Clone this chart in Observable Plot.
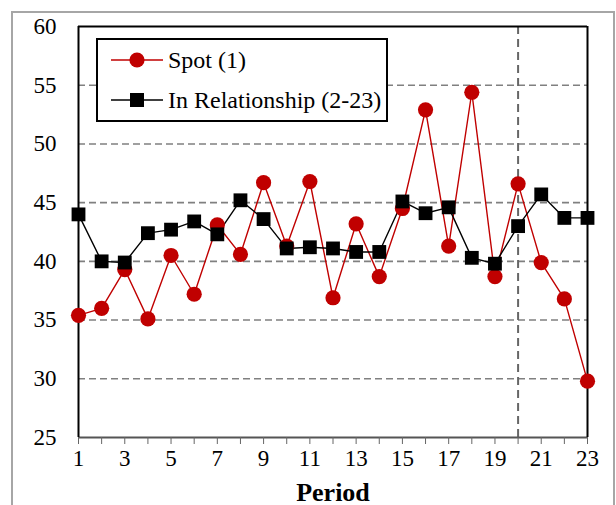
<!DOCTYPE html>
<html>
<head>
<meta charset="utf-8">
<script src="https://cdn.jsdelivr.net/npm/d3@7"></script>
<script src="https://cdn.jsdelivr.net/npm/@observablehq/plot@0.6"></script>
<style>
  html, body { margin: 0; padding: 0; background: #fff; }
  #wrap { position: relative; width: 616px; height: 505px; overflow: hidden; font-family: "Liberation Serif", "Times New Roman", serif; }
  #border { position: absolute; left: 11px; top: 11px; width: 600px; height: 520px; border: 2px solid #a6a6a6; }
  #chart { position: absolute; left: 0; top: 0; }
  #legend { position: absolute; left: 96px; top: 38px; width: 288px; height: 80px; border: 2px solid #000; background: #fff; box-sizing: content-box; }
  .item { position: absolute; left: 13px; height: 30px; display: flex; align-items: center; font-family: "Liberation Serif", "Times New Roman", serif; font-size: 24px; color: #000; white-space: nowrap; }
  .item svg { display: block; flex: none; }
  .item span { margin-left: 5px; line-height: 30px; }
</style>
</head>
<body>
<div id="wrap">
  <div id="border"></div>
  <div id="chart"></div>
  <div id="legend"></div>
</div>
<script>
const periods = d3.range(1, 24);
const spot = [35.4, 36.0, 39.3, 35.1, 40.5, 37.2, 43.1, 40.6, 46.7, 41.3, 46.8, 36.9, 43.2, 38.7, 44.5, 52.9, 41.3, 54.4, 38.7, 46.6, 39.9, 36.8, 29.8];
const rel  = [44.0, 40.0, 39.9, 42.4, 42.7, 43.4, 42.3, 45.2, 43.6, 41.1, 41.2, 41.1, 40.8, 40.8, 45.1, 44.1, 44.6, 40.3, 39.8, 43.0, 45.7, 43.7, 43.7];
const yTicks = [25, 30, 35, 40, 45, 50, 55, 60];
const gridY = [30, 35, 40, 45, 50, 55];
const splitPeriod = [20];
const seriesNames = ["Spot (1)", "In Relationship (2-23)"];
const RED = "#c00000";
const FONT = "'Liberation Serif', 'Times New Roman', serif";

const spotData = periods.map((p, i) => ({period: p, value: spot[i]}));
const relData = periods.map((p, i) => ({period: p, value: rel[i]}));

const plot = Plot.plot({
  width: 616,
  height: 505,
  marginLeft: 78,
  marginRight: 29,
  marginTop: 26,
  marginBottom: 68,
  style: {fontFamily: FONT, background: "transparent", overflow: "visible"},
  x: {domain: [1, 23]},
  y: {domain: [25, 60]},
  marks: [
    Plot.ruleY(gridY, {stroke: "#808080", strokeWidth: 1.6, strokeDasharray: "7,4"}),
    Plot.ruleX(splitPeriod, {stroke: "#666", strokeWidth: 2, strokeDasharray: "8,5"}),
    Plot.ruleY([25], {stroke: "#555", strokeWidth: 2}),
    Plot.ruleY([60], {stroke: "#000", strokeWidth: 2}),
    Plot.ruleX([1, 23], {stroke: "#000", strokeWidth: 2}),
    Plot.axisX({ticks: periods, tickFormat: d => d % 2 ? String(d) : "", tickSize: 7, tickPadding: 5, stroke: "#666", fill: "#000", fontSize: 23, label: null}),
    Plot.text(["Period"], {frameAnchor: "bottom", dy: 63, fontSize: 26, fontWeight: "bold", lineAnchor: "bottom", fill: "#000"}),
    Plot.axisY({ticks: yTicks, tickSize: 0, tickPadding: 22, fontSize: 23, fill: "#000", label: null}),
    Plot.line(spotData, {x: "period", y: "value", stroke: RED, strokeWidth: 1.4}),
    Plot.line(relData, {x: "period", y: "value", stroke: "#000", strokeWidth: 1.4}),
    Plot.dot(spotData, {x: "period", y: "value", r: 7.6, fill: RED, stroke: "none"}),
    Plot.dot(relData, {x: "period", y: "value", symbol: "square", r: 7.8, fill: "#000", stroke: "none"})
  ]
});
document.getElementById("chart").appendChild(plot);

// Legend
const legend = document.getElementById("legend");
const items = [
  {name: seriesNames[0], color: RED, shape: "circle", top: 5},
  {name: seriesNames[1], color: "#000", shape: "square", top: 45}
];
items.forEach(it => {
  const div = document.createElement("div");
  div.className = "item";
  div.style.top = it.top + "px";
  const svg = d3.create("svg").attr("width", 52).attr("height", 30);
  svg.append("line").attr("x1", 0).attr("x2", 52).attr("y1", 15).attr("y2", 15).attr("stroke", it.color).attr("stroke-width", 1.4);
  if (it.shape === "circle") svg.append("circle").attr("cx", 26).attr("cy", 15).attr("r", 7.6).attr("fill", it.color);
  else svg.append("rect").attr("x", 19).attr("y", 8).attr("width", 14).attr("height", 14).attr("fill", it.color);
  div.appendChild(svg.node());
  const s = document.createElement("span");
  s.textContent = it.name;
  div.appendChild(s);
  legend.appendChild(div);
});
</script>
</body>
</html>
